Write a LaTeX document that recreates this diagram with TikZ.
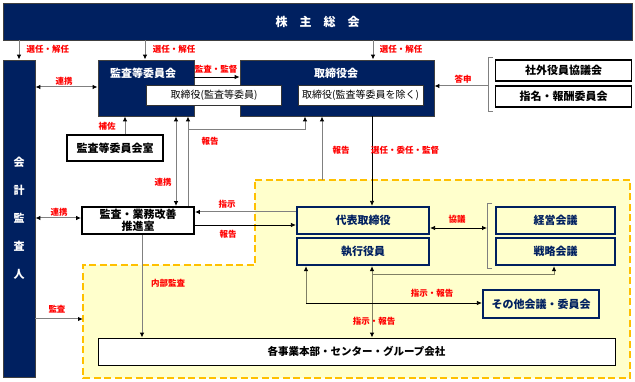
\documentclass[tikz,border=0pt]{standalone}
\usepackage{fontspec}
\setmainfont{Noto Sans CJK JP}
\usetikzlibrary{arrows.meta}
\definecolor{navy}{RGB}{0,32,96}
\definecolor{ylw}{RGB}{255,255,204}
\definecolor{org}{RGB}{255,192,0}
\definecolor{lred}{RGB}{255,0,0}
\definecolor{lgray}{RGB}{128,128,128}
\definecolor{olv}{RGB}{128,128,100}
\begin{document}
\begin{tikzpicture}[x=1pt,y=-1pt,
  navybox/.style={draw=black!75, fill=navy, line width=0.8pt, inner sep=0pt},
  ntitle/.style={text=white, font=\fontsize{11}{13}\selectfont\bfseries, inner sep=1pt},
  wbox/.style={draw=black, fill=white, line width=1.8pt, inner sep=0pt, font=\fontsize{11}{13}\selectfont\bfseries},
  subbox/.style={draw=black!80, fill=white, line width=0.6pt, inner sep=0pt, font=\fontsize{10}{12}\selectfont},
  nbox/.style={draw=navy, fill=ylw, line width=2.2pt, inner sep=0pt, text=navy, font=\fontsize{11}{13}\selectfont\bfseries},
  lbl/.style={text=lred, font=\fontsize{8.5}{10}\selectfont\bfseries, inner sep=1pt},
  tip/.tip={Latex[length=5pt,width=4.5pt,color=black]},
  ga/.style={draw=lgray, line width=1pt, -tip},
  gda/.style={draw=lgray, line width=1pt, tip-tip},
  ba/.style={draw=black, line width=0.8pt, -tip},
  bda/.style={draw=black, line width=0.8pt, tip-tip},
  oda/.style={draw=olv, line width=1pt, tip-tip},
  oa/.style={draw=olv, line width=1pt, -tip}]
\useasboundingbox (0,0) rectangle (635,382);

% yellow region
\fill[ylw] (255,180) -- (630,180) -- (630,378) -- (83,378) -- (83,265) -- (255,265) -- cycle;
\draw[org, line width=1.6pt, dash pattern=on 7pt off 3.5pt] (255,180) -- (630,180) -- (630,378) -- (83,378) -- (83,265) -- (255,265) -- cycle;

% navy boxes
\node[navybox, minimum width=629pt, minimum height=37pt, text=white, font=\fontsize{12}{14}\selectfont\bfseries] (soukai) at (317.5,21.5) {株\hspace{12pt}主\hspace{12pt}総\hspace{12pt}会};
\node[navybox, minimum width=32pt, minimum height=317pt, text=white, align=center, font=\fontsize{11}{28}\selectfont\bfseries] (kaikei) at (19,218.5) {会\\計\\監\\査\\人};
\node[navybox, minimum width=96pt, minimum height=56pt] (kansa) at (146,88) {};
\node[ntitle] (kansaT) at (143,73) {監査等委員会};
\node[navybox, minimum width=194pt, minimum height=56pt] (tori) at (337,88) {};
\node[ntitle] (toriT) at (336,73) {取締役会};
\node[subbox, minimum width=135pt, minimum height=20pt] (sub1) at (214,95) {取締役(監査等委員)};
\node[subbox, minimum width=125pt, minimum height=20pt] (sub2) at (360.5,95) {取締役(監査等委員を除く)};

% white boxes
\node[wbox, minimum width=136pt, minimum height=21pt] (shagai) at (563.5,70.5) {社外役員協議会};
\node[wbox, minimum width=136pt, minimum height=21pt] (shimei) at (563.5,96.5) {指名・報酬委員会};
\node[wbox, minimum width=96pt, minimum height=26pt] (shitsu) at (115,148) {監査等委員会室};
\node[wbox, minimum width=112pt, minimum height=27pt, align=center, font=\fontsize{11}{12.5}\selectfont\bfseries] (suishin) at (138,220.5) {監査・業務改善\\推進室};
\node[draw=black, fill=white, line width=0.8pt, inner sep=0pt, minimum width=517pt, minimum height=27pt, font=\fontsize{10.5}{12}\selectfont\bfseries] (kaku) at (356.5,351.5) {各事業本部・センター・グループ会社};

% navy-framed boxes
\node[nbox, minimum width=132pt, minimum height=27pt] (daihyo) at (363,220.5) {代表取締役};
\node[nbox, minimum width=132pt, minimum height=27pt] (shikko) at (363,251.5) {執行役員};
\node[nbox, minimum width=119pt, minimum height=27pt] (keiei) at (555.5,220.5) {経営会議};
\node[nbox, minimum width=119pt, minimum height=27pt] (senryaku) at (555.5,251.5) {戦略会議};
\node[nbox, minimum width=116pt, minimum height=28pt] (sonota) at (541,304) {その他会議・委員会};

% brackets
\draw[lgray, line width=0.8pt] (493,57) -- (488,57) -- (488,111) -- (493,111);
\draw[lgray, line width=0.8pt] (492,203) -- (487,203) -- (487,268) -- (492,268);
\coordinate (br1) at (488,86);
\coordinate (br2) at (487,228);

% helper coordinates
\coordinate (c145) at (145,0);
\coordinate (c373) at (373,0);
\coordinate (c125) at (125,0);
\coordinate (c176) at (176,0);
\coordinate (c188) at (188,0);
\coordinate (c305) at (305,0);
\coordinate (c322) at (322,0);
\coordinate (c372) at (372,0);
\coordinate (c142) at (142,0);
\coordinate (c306) at (306,0);
\coordinate (c554) at (554,0);
\coordinate (r77) at (0,77);
\coordinate (r87) at (0,87);
\coordinate (r212) at (0,212);
\coordinate (r225) at (0,225);
\coordinate (r218) at (0,218);
\coordinate (r303) at (0,303);
\coordinate (hb) at (188,130);
\coordinate (ytop) at (322,180);
\coordinate (yleft) at (83,319);
\coordinate (kk) at (35,319);
\coordinate (bj) at (372,275);

% connectors
\draw[ga] (soukai.south -| kaikei.north) -- (kaikei.north);
\draw[ga] (soukai.south -| c145) -- (kansa.north -| c145);
\draw[ga] (soukai.south -| c373) -- (tori.north -| c373);
\draw[ba] (kansa.east |- r77) -- (tori.west |- r77);
\draw[gda] (kaikei.east |- r87) -- (kansa.west |- r87);
\draw[ga] (br1) -- (tori.east |- br1);
\draw[ga] (shitsu.north -| c125) -- (kansa.south -| c125);
\draw[gda] (kansa.south -| c176) -- (suishin.north -| c176);
\draw[ga] (suishin.north -| c188) -- (kansa.south -| c188);
\draw[ga] (hb) -- (hb -| c305) -- (tori.south -| c305);
\draw[ga] (ytop) -- (tori.south -| c322);
\draw[ba] (tori.south -| c372) -- (daihyo.north -| c372);
\draw[ga] (daihyo.west |- r212) -- (suishin.east |- r212);
\draw[ba] (suishin.east |- r225) -- (daihyo.west |- r225);
\draw[gda] (kaikei.east |- r218) -- (suishin.west |- r218);
\draw[ga] (kk) -- (yleft);
\draw[ga] (suishin.south -| c142) -- (kaku.north -| c142);
\draw[bda] (daihyo.east |- br2) -- (br2);
\draw[oda] (shikko.south -| c372) -- (kaku.north -| c372);
\draw[oa] (bj) -- (bj -| c554) -- (senryaku.south -| c554);
\draw[olv, line width=1pt, tip-] (shikko.south -| c306) -- (c306 |- r303);
\draw[ba] (c306 |- r303) -- (sonota.west |- r303);

% labels
\node[lbl] (l1) at (48,49) {選任・解任};
\node[lbl] (l2) at (174,49) {選任・解任};
\node[lbl] (l3) at (401,49) {選任・解任};
\node[lbl] (l4) at (216,69) {監査・監督};
\node[lbl] (l5) at (64,81) {連携};
\node[lbl] (l6) at (463,79) {答申};
\node[lbl] (l7) at (107,126) {補佐};
\node[lbl] (l8) at (163,182) {連携};
\node[lbl] (l9) at (210,141) {報告};
\node[lbl] (l10) at (341,150) {報告};
\node[lbl] (l11) at (405,150) {選任・委任・監督};
\node[lbl] (l12) at (227,204) {指示};
\node[lbl] (l13) at (228,234) {報告};
\node[lbl] (l14) at (59,212) {連携};
\node[lbl] (l15) at (57,309) {監査};
\node[lbl] (l16) at (168,283) {内部監査};
\node[lbl] (l17) at (457,219) {協議};
\node[lbl] (l18) at (432,293) {指示・報告};
\node[lbl] (l19) at (374,321) {指示・報告};
\end{tikzpicture}
\end{document}
